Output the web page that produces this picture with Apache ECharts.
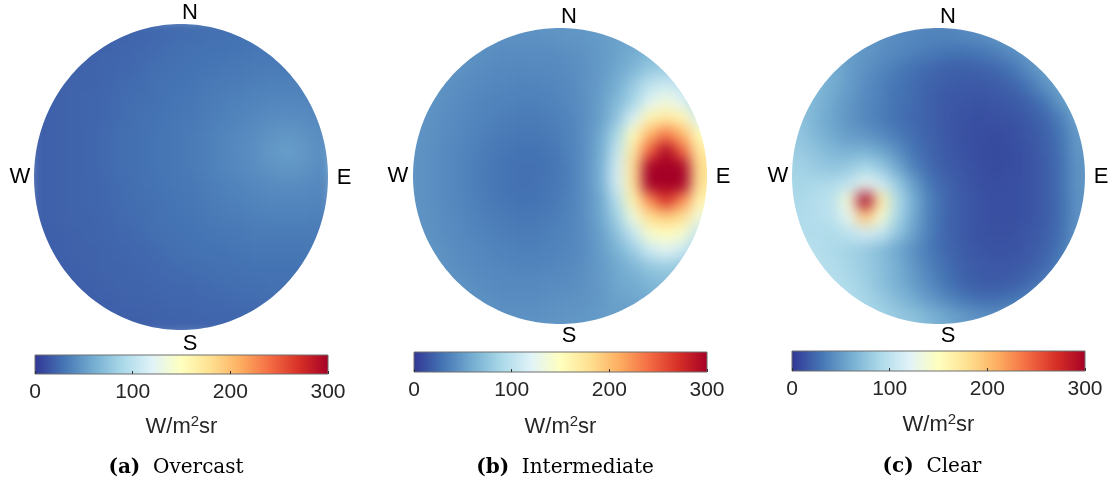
<!DOCTYPE html>
<html>
<head>
<meta charset="utf-8">
<script src="https://cdn.jsdelivr.net/npm/echarts@6/dist/echarts.min.js"></script>
<style>
html,body{margin:0;padding:0;background:#fff;}
#wrap{position:relative;width:1115px;height:486px;overflow:hidden;background:#fff;}
#field{position:absolute;left:0;top:0;width:1115px;height:486px;filter:blur(7px);}
#overlay{position:absolute;left:0;top:0;width:1115px;height:486px;}
</style>
</head>
<body>
<div id="wrap"><div id="field"></div><div id="overlay"></div></div>
<script>
// ---- colour scale (W/m^2 sr), 0..300
const COLORS = ['#313695','#4575b4','#74add1','#abd9e9','#e0f3f8','#ffffbf','#fee090','#fdae61','#f46d43','#d73027','#a50026'];
const VMIN = 0, VMAX = 300;
const CBAR_TICKS = [0, 100, 200, 300];
const UNIT = ['W/m', '2', 'sr'];
const COMPASS = ['N', 'W', 'E', 'S'];
const CAPTIONS = [['(a)', 'Overcast'], ['(b)', 'Intermediate'], ['(c)', 'Clear']];
// cell indices across the sky disc (west -> east, north -> south)
const CELL_IDS = [0,1,2,3,4,5,6,7,8,9,10,11,12,13,14,15,16,17];

// radiance, one row per north->south band
const overcast = [
[19,19,20,21,22,22,23,24,25,26,27,28,28,29,29,29,29,29],
[19,20,21,21,22,23,24,25,27,28,29,29,30,31,31,31,31,31],
[19,20,21,22,23,24,25,27,28,29,30,31,32,33,33,33,33,33],
[20,21,22,22,23,25,26,28,29,30,32,33,34,35,36,36,36,35],
[20,21,22,23,24,26,27,28,30,31,33,35,36,38,39,39,39,38],
[20,21,22,23,24,26,28,29,31,32,34,36,38,40,42,43,42,40],
[20,21,22,23,25,27,28,30,31,33,35,38,40,43,46,48,46,43],
[20,21,22,23,25,27,28,30,31,33,35,38,41,44,49,52,49,44],
[20,21,22,23,25,27,28,30,31,33,35,38,40,43,46,48,46,43],
[20,21,22,23,24,26,28,29,31,32,34,36,38,40,42,43,42,40],
[20,21,22,23,24,26,27,28,30,31,33,35,36,38,39,39,39,38],
[20,21,22,22,23,25,26,28,29,30,32,33,34,35,36,36,36,35],
[19,20,21,22,23,24,25,27,28,29,30,31,32,33,33,33,33,33],
[19,20,21,21,22,23,24,25,27,28,29,29,30,31,31,31,31,31],
[19,19,20,21,22,22,23,24,25,26,27,28,28,29,29,29,29,29],
[18,19,19,20,21,22,22,23,24,24,25,26,27,27,28,28,28,28],
[18,18,19,19,20,21,21,22,23,23,24,24,25,25,26,26,26,26],
[18,18,18,19,19,20,20,21,21,22,22,23,23,23,24,24,24,24]
];
const intermediate = [
[52,51,49,47,46,45,45,45,46,47,48,51,54,57,61,62,61,59],
[52,49,47,46,44,43,43,43,43,44,46,50,54,60,67,69,67,63],
[50,48,46,44,42,41,40,41,41,43,45,50,57,66,79,82,80,70],
[49,47,44,42,40,39,38,38,39,41,45,51,61,80,100,110,102,85],
[48,45,43,40,38,37,36,36,37,40,44,53,68,88,122,135,122,88],
[47,44,42,39,37,35,34,34,35,38,44,53,76,118,160,172,160,118],
[46,44,41,38,35,33,32,32,33,37,44,58,91,152,205,235,205,152],
[46,43,40,37,34,31,29,29,31,36,44,60,104,170,245,295,245,170],
[46,43,40,36,33,30,28,28,30,35,44,62,113,180,300,300,300,180],
[46,43,40,36,33,30,28,28,31,35,44,62,113,175,300,300,300,175],
[46,43,40,37,34,31,29,29,32,36,44,58,97,160,225,270,225,160],
[46,44,41,38,35,33,32,32,34,37,44,57,85,135,180,192,180,135],
[47,44,42,39,37,35,34,34,36,38,43,53,74,105,142,152,142,105],
[48,46,43,41,39,37,36,36,37,39,43,52,64,82,110,123,110,82],
[49,47,44,42,40,39,38,38,39,41,44,50,58,67,78,83,78,67],
[50,48,46,44,42,41,41,41,42,43,45,50,57,60,66,70,68,62],
[52,50,48,46,44,43,43,43,44,45,46,49,54,56,60,62,60,56],
[53,51,49,48,46,45,45,45,46,47,48,51,53,50,50,50,50,50]
];
const clear = [
[60,58,55,52,48,45,42,40,38,38,40,43,47,52,56,60,64,68],
[70,64,58,52,48,44,40,36,33,30,29,31,35,42,50,56,62,66],
[72,66,60,52,45,39,33,28,24,21,20,21,24,30,42,52,58,64],
[74,68,60,51,43,36,30,26,21,18,17,16,18,22,30,45,55,62],
[74,66,57,48,41,35,29,25,20,16,15,14,15,17,21,30,48,60],
[74,64,55,47,40,34,28,24,20,16,14,12,13,14,17,23,35,55],
[76,67,58,51,47,41,33,26,21,16,13,11,10,12,15,20,30,50],
[80,74,67,63,64,56,44,30,22,17,14,11,9,11,14,19,28,48],
[85,80,76,80,90,80,58,37,25,18,15,12,10,11,14,18,27,46],
[88,90,92,102,125,110,80,52,31,22,16,13,11,12,14,18,27,46],
[90,95,100,140,300,165,92,60,36,24,17,14,12,12,14,18,26,45],
[92,95,99,125,195,140,88,58,35,23,17,14,12,12,14,18,26,45],
[94,94,92,100,112,104,76,53,34,23,17,14,13,13,15,19,27,46],
[98,96,91,86,80,70,57,44,32,24,18,15,14,14,16,21,30,50],
[100,98,94,88,81,72,61,48,36,27,20,17,16,16,18,24,35,55],
[100,100,97,91,83,73,62,51,40,30,22,18,17,19,24,33,45,60],
[100,100,98,94,87,79,69,59,49,40,32,27,26,30,36,44,52,62],
[100,100,98,96,91,85,79,74,65,57,50,45,44,46,50,55,60,65]
];
const FIELDS = [overcast, intermediate, clear];

// ---- layout (pixels)
const PANELS = [
  {L:34,  T:24, W:294, H:306, region:[-5,372], maskBottom:354.5, halo:1.05,
   cbar:{left:35, top:355, width:293, height:19}, unitY:427, cap:[176,468],
   letters:[[190,13],[20,177],[344,178],[190,344]]},
  {L:413, T:28, W:294, H:296, region:[372,750], maskBottom:351, halo:1.08,
   cbar:{left:414, top:352, width:293, height:20}, unitY:427, cap:[565,468],
   letters:[[569,17],[398,176],[723,177],[569,336]]},
  {L:792, T:28, W:293, H:296, region:[750,1120], maskBottom:350, halo:1.08,
   cbar:{left:792, top:351, width:293, height:20}, unitY:425, cap:[932,467],
   letters:[[948,17],[778,176],[1101,177],[948,336]]}
];
const SANS = "'Liberation Sans', Arial, Helvetica, sans-serif";
const SERIF = "'DejaVu Serif', serif";

function toCells(rows){
  const out = [];
  rows.forEach((row, j) => row.forEach((v, i) => out.push([i, j, v])));
  return out;
}

// ---------- field chart (heat cells); an enlarged copy underneath keeps the soft edge free of white fringe ----------
const field = echarts.init(document.getElementById('field'), null, {renderer:'canvas'});
const fGrids = [], fX = [], fY = [], fSeries = [];
PANELS.forEach((p, k) => {
  const cx = p.L + p.W/2, cy = p.T + p.H/2;
  const w2 = p.W*p.halo, h2 = p.H*p.halo;
  [[cx - w2/2, cy - h2/2, w2, h2, 1], [p.L, p.T, p.W, p.H, 2]].forEach(g => {
    const gi = fGrids.length;
    fGrids.push({left:g[0], top:g[1], width:g[2], height:g[3], show:false});
    fX.push({type:'category', gridIndex:gi, data:CELL_IDS, show:false});
    fY.push({type:'category', gridIndex:gi, data:CELL_IDS, inverse:true, show:false});
    fSeries.push({type:'heatmap', xAxisIndex:gi, yAxisIndex:gi, z:g[4], data:toCells(FIELDS[k]),
      itemStyle:{borderWidth:0}, emphasis:{disabled:true}, silent:true, progressive:0});
  });
});
field.setOption({
  animation:false,
  grid: fGrids, xAxis: fX, yAxis: fY,
  visualMap: [{type:'continuous', show:false, min:VMIN, max:VMAX,
    seriesIndex: fSeries.map((s,i) => i), inRange:{color:COLORS}}],
  series: fSeries
});

// ---------- overlay chart (disc frame, labels, colour bars) ----------
const overlay = echarts.init(document.getElementById('overlay'), null, {renderer:'canvas'});

function maskPoints(p){
  const cx = p.L + p.W/2, cy = p.T + p.H/2, rx = p.W/2, ry = p.H/2;
  const x0 = p.region[0], x1 = p.region[1], y0 = -5, y1 = p.maskBottom;
  const pts = [[x0,y0],[x1,y0],[x1,y1],[x0,y1],[x0,cy],[cx-rx,cy]];
  const n = 240;
  for (let k = 1; k <= n; k++){
    const t = Math.PI - 2*Math.PI*k/n;
    pts.push([cx + rx*Math.cos(t), cy + ry*Math.sin(t)]);
  }
  pts.push([x0,cy]);
  return pts;
}

const gradient = new echarts.graphic.LinearGradient(0,0,1,0,
  COLORS.map((c,k) => ({offset:k/(COLORS.length-1), color:c})));

const graphics = [];
PANELS.forEach((p,k) => {
  graphics.push({type:'polygon', z:1, silent:true, shape:{points:maskPoints(p)}, style:{fill:'#ffffff'}});
  p.letters.forEach((pos,m) => graphics.push({type:'text', z:60, x:pos[0], y:pos[1],
    style:{text:COMPASS[m], fontFamily:SANS, fontSize:22, fill:'#000',
      align:'center', verticalAlign:'middle'}}));
  graphics.push({type:'text', z:60, x:p.cbar.left + p.cbar.width/2, y:p.unitY,
    style:{text:'{a|'+UNIT[0]+'}{s|'+UNIT[1]+'}{a|'+UNIT[2]+'}', align:'center', verticalAlign:'middle',
      rich:{a:{fontFamily:SANS, fontSize:22, fill:'#262626', lineHeight:26},
            s:{fontFamily:SANS, fontSize:15, fill:'#262626', lineHeight:15, verticalAlign:'top'}}}});
  graphics.push({type:'text', z:60, x:p.cap[0], y:p.cap[1],
    style:{text:'{b|'+CAPTIONS[k][0]+'}{n|  '+CAPTIONS[k][1]+'}', align:'center', verticalAlign:'middle',
      rich:{b:{fontFamily:SERIF, fontSize:20, fontWeight:'bold', fill:'#000'},
            n:{fontFamily:SERIF, fontSize:20, fill:'#000'}}}});
});

overlay.setOption({
  animation:false,
  grid: PANELS.map(p => Object.assign({show:false}, p.cbar)),
  xAxis: PANELS.map((p,k) => ({type:'value', gridIndex:k, min:CBAR_TICKS[0], max:CBAR_TICKS[CBAR_TICKS.length-1], interval:100, z:10,
    axisLine:{show:false}, splitLine:{show:false},
    axisTick:{show:true, inside:true, length:3, lineStyle:{color:'#333', width:1}},
    axisLabel:{fontSize:21, color:'#262626', fontFamily:SANS, margin:8,
      formatter: v => CBAR_TICKS.indexOf(v) >= 0 ? String(v) : ''}})),
  yAxis: PANELS.map((p,k) => ({type:'value', gridIndex:k, min:0, max:1, show:false})),
  series: PANELS.map((p,k) => ({
    type:'custom', xAxisIndex:k, yAxisIndex:k, silent:true, z:5, data:[[VMIN, VMAX]],
    renderItem:(params, api) => {
      const a = api.coord([api.value(0), 1]);
      const b = api.coord([api.value(1), 0]);
      return {type:'rect', shape:{x:a[0], y:a[1], width:b[0]-a[0], height:b[1]-a[1]},
        style:{fill:gradient, stroke:'#6e6e6e', lineWidth:1}};
    }
  })),
  graphic: graphics
});
</script>
</body>
</html>
